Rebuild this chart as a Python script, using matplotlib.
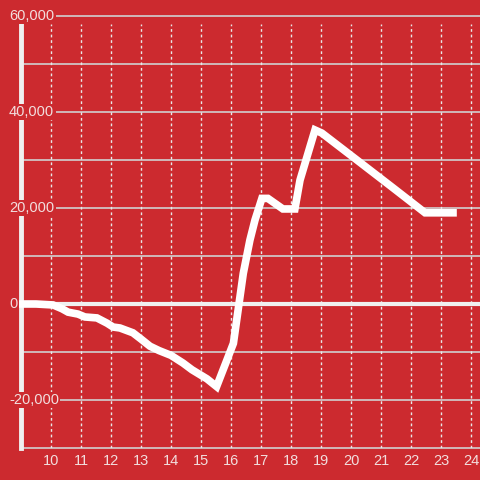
import matplotlib.pyplot as plt

# hours and values
hours = [8.87, 9.5, 10.07, 10.37, 10.57, 10.9, 11.13, 11.53, 11.87, 12.07, 12.3,
         12.73, 13.0, 13.3, 13.6, 14.0, 14.4, 14.7, 15.2, 15.52, 16.08, 16.41,
         16.63, 16.8, 17.03, 17.23, 17.73, 18.13, 18.3, 18.8, 19.03, 20.3,
         21.4, 22.47, 23.4]
values = [0, 0, -200, -1000, -1700, -2100, -2700, -2900, -4000, -4800, -5000,
          -6000, -7300, -8800, -9700, -10700, -12300, -13700, -15600, -17200, -8200, 6400,
          13300, 17500, 22000, 22000, 19800, 19800, 25800, 36250, 35600, 29500,
          24200, 19000, 19000]

x_ticks = list(range(10, 25))
y_ticks = [-20000, 0, 20000, 40000, 60000]
y_labels = ['-20,000', '0', '20,000', '40,000', '60,000']

bg = '#cc2a2f'
txt = '#f2dede'

fig = plt.figure(figsize=(4.8, 4.8), dpi=100, facecolor=bg)
ax = fig.add_axes([21 / 480, 32 / 480, 459 / 480, 432 / 480], facecolor=bg)
ax.set_xlim(9, 24.3)
ax.set_ylim(-30000, 60000)

for s in ax.spines.values():
    s.set_visible(False)
ax.set_xticks([])
ax.set_yticks([])

# grid
for v in range(-30000, 60001, 10000):
    ax.axhline(v, color='#d0d0d0', lw=1.2, zorder=1, clip_on=False)
for h in x_ticks:
    ax.plot([h, h], [-30000, 58300], color='#e8e8e8', lw=1, ls=(0, (2, 2)), zorder=1)

ax.axhline(0, color='#f0f0f0', lw=3, zorder=2)
ax.plot([9, 9], [-30000, 58300], color='#f0f0f0', lw=3.5, zorder=2, clip_on=False)

ax.plot(hours, values, color='white', lw=5.5, zorder=3, clip_on=False,
        solid_joinstyle='miter')

# labels
for v, lab in zip(y_ticks, y_labels):
    ax.text(8.6, v, lab, ha='left', va='center', color=txt, fontsize=10.5,
            family='Liberation Sans', zorder=5, clip_on=False,
            bbox=dict(facecolor=bg, edgecolor='none', pad=1))
for h in x_ticks:
    ax.text(h, -32800, str(h), ha='center', va='center', color=txt, fontsize=10.5,
            family='Liberation Sans', clip_on=False)

plt.savefig('out.png', dpi=100, facecolor=bg)
